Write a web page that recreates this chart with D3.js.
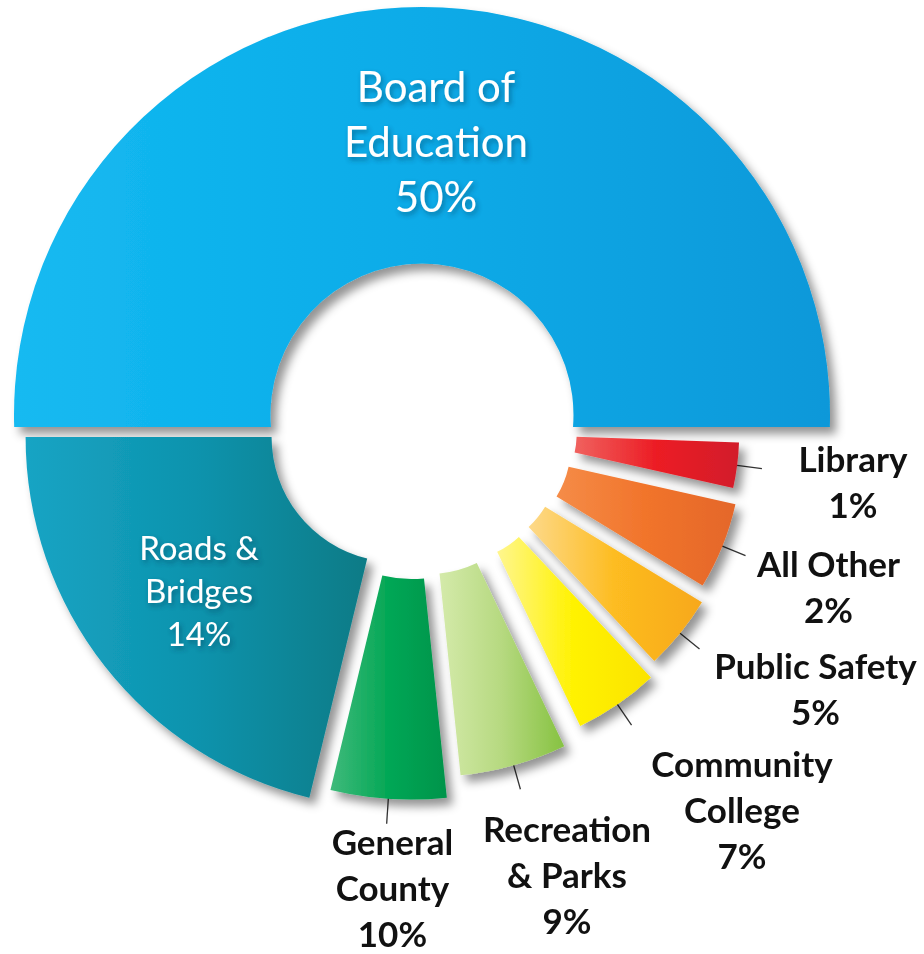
<!DOCTYPE html>
<html>
<head>
<meta charset="utf-8">
<script src="https://cdn.jsdelivr.net/npm/d3@7"></script>
<style>
  html, body { margin: 0; padding: 0; background: #ffffff; }
  svg { display: block; }
</style>
</head>
<body>
<svg id="chart" width="924" height="954"></svg>
<script>
// ---------------- DATA ----------------
const topCategory = "Board of Education";
const topShare = 50;
const topLines = ["Board of", "Education"];

const categories = ["Library", "All Other", "Public Safety", "Community College",
                    "Recreation & Parks", "General County", "Roads & Bridges"];
const shares = [1, 2, 5, 7, 9, 10, 14];
const labelLines = [["Library"], ["All Other"], ["Public Safety"], ["Community", "College"],
                    ["Recreation", "& Parks"], ["General", "County"], ["Roads &", "Bridges"]];

// ---------------- LAYOUT (how the infographic draws each slice) ----------------
// angular extent of each lower slice as drawn (degrees), lower half of the ring
const sweepDeg = [10.65, 18.7, 15.45, 17.7, 19.55, 19.55, 76.4];
const innerR   = [84.5, 99, 97.4, 85.4, 114, 123, 125];
const outerR   = [247, 270, 281, 278.3, 317, 343.5, 371];
const explode  = [72, 57.6, 56.9, 71, 44.9, 41.7, 33.6];
const drift    = [9.8, 9.1, 6.7, 2, 6.7, 8, -1.6];
const labelPolar = [[8.9, 436.2], [23.0, 441.6], [34.85, 479.5], [51.0, 508.4],
                    [72.5, 482.3], [93.57, 474.4], [141.64, 284.4]];
const insideLabel = [false, false, false, false, false, false, true];

const sliceColors = [
  ["#f0625f", "#ec1c24", "#d21f2b"],
  ["#f58c48", "#f1742b", "#e4672a"],
  ["#fdd98a", "#fdbc20", "#f7a81b"],
  ["#fff68f", "#fff200", "#fbe300"],
  ["#d4eaaa", "#b6d980", "#86c241"],
  ["#3fba7b", "#03a755", "#00944b"],
  ["#16a4c4", "#0e93ad", "#0a7b86"]
];
const boardColors = ["#16baf1", "#07abe8", "#0898d9"];

// ---------------- DRAWING ----------------
const W = 924, H = 954;
const cx = 422, cy = 415;
const board = { inner: 151.5, outer: 408, drop: 12, labelPolar: [272.94, 273.4] };
const rad = d => d * Math.PI / 180;
const FONT = "Lato, 'Open Sans', 'DejaVu Sans', sans-serif";

const svg = d3.select("#chart");
const defs = svg.append("defs");

const sh = defs.append("filter").attr("id", "shadow")
  .attr("x", "-10%").attr("y", "-10%").attr("width", "125%").attr("height", "125%");
sh.append("feDropShadow").attr("dx", 6).attr("dy", 7).attr("stdDeviation", 5)
  .attr("flood-color", "#000").attr("flood-opacity", 0.42);

const tsh = defs.append("filter").attr("id", "tshadow")
  .attr("x", "-20%").attr("y", "-30%").attr("width", "140%").attr("height", "160%");
tsh.append("feDropShadow").attr("dx", 2).attr("dy", 3).attr("stdDeviation", 2.5)
  .attr("flood-color", "#00334d").attr("flood-opacity", 0.45);

function addGradient(id, stops) {
  const g = defs.append("linearGradient").attr("id", id)
    .attr("x1", "0%").attr("y1", "0%").attr("x2", "100%").attr("y2", "0%");
  stops.forEach((c, i) => g.append("stop")
    .attr("offset", (i / (stops.length - 1) * 100) + "%").attr("stop-color", c));
}
addGradient("g-board", boardColors);
sliceColors.forEach((s, i) => addGradient("g-" + i, s));

const rows = categories.map((c, i) => ({
  i, name: c, share: shares[i], sweep: sweepDeg[i], r0: innerR[i], r1: outerR[i],
  explode: explode[i], drift: drift[i]
}));

// lower half: from just below 3 o'clock (d3 angle 92deg) clockwise to 9 o'clock (270deg)
const pie = d3.pie().sort(null).value(d => d.sweep)
  .startAngle(rad(92)).endAngle(rad(270));
const arcs = pie(rows);

const arcGen = d3.arc()
  .innerRadius(d => d.data.r0)
  .outerRadius(d => d.data.r1);

// apex (translation) of each slice: explode along bisector + small clockwise drift
function apex(a) {
  const m = (a.startAngle + a.endAngle) / 2;
  const ux = Math.sin(m), uy = -Math.cos(m);     // radial
  const tx = Math.cos(m), ty = Math.sin(m);      // clockwise tangent
  return [cx + a.data.explode * ux + a.data.drift * tx,
          cy + a.data.explode * uy + a.data.drift * ty, ux, uy];
}

// leader lines (drawn first, under the slices)
const leaderLen = 25;
const leaders = svg.append("g");
arcs.forEach(a => {
  if (insideLabel[a.data.i]) return;
  const [ax, ay, ux, uy] = apex(a);
  leaders.append("line")
    .attr("x1", ax + (a.data.r1 - 4) * ux).attr("y1", ay + (a.data.r1 - 4) * uy)
    .attr("x2", ax + (a.data.r1 + leaderLen) * ux).attr("y2", ay + (a.data.r1 + leaderLen) * uy)
    .attr("stroke", "#333").attr("stroke-width", 1.3);
});

const slices = svg.append("g").attr("filter", "url(#shadow)");

// top half: Board of Education (half ring whose flat ends drop slightly below centre)
(function () {
  const r0 = board.inner, r1 = board.outer, dr = board.drop;
  const e1 = Math.asin(dr / r1), e0 = Math.asin(dr / r0);
  const p = d3.path();
  p.moveTo(cx + r1 * Math.cos(Math.PI - e1), cy + r1 * Math.sin(Math.PI - e1));
  p.arc(cx, cy, r1, Math.PI - e1, 2 * Math.PI + e1, false);
  p.lineTo(cx + r0 * Math.cos(e0), cy + r0 * Math.sin(e0));
  p.arc(cx, cy, r0, 2 * Math.PI + e0, Math.PI - e0, true);
  p.closePath();
  slices.append("path").attr("d", p.toString()).attr("fill", "url(#g-board)");
})();

arcs.forEach(a => {
  const [ax, ay] = apex(a);
  slices.append("path")
    .attr("d", arcGen(a))
    .attr("transform", `translate(${ax},${ay})`)
    .attr("fill", `url(#g-${a.data.i})`);
});

// ---------------- LABELS ----------------
function block(x, yc, lines, fs, lh, color, weight, filter) {
  const first = yc - (lines.length - 1) * lh / 2 + 0.36 * fs;
  const t = svg.append("text")
    .attr("text-anchor", "middle")
    .attr("font-family", FONT)
    .attr("font-size", fs)
    .attr("font-weight", weight)
    .attr("fill", color);
  if (filter) t.attr("filter", filter);
  lines.forEach((ln, k) => t.append("tspan").attr("x", x).attr("y", first + k * lh).text(ln));
}
function polar(phiDeg, r) {
  return [cx + r * Math.cos(rad(phiDeg)), cy + r * Math.sin(rad(phiDeg))];
}

{
  const [bx, by] = polar(board.labelPolar[0], board.labelPolar[1]);
  block(bx, by, topLines.concat([topShare + "%"]), 42, 55, "#ffffff", 400, "url(#tshadow)");
}
arcs.forEach(a => {
  const i = a.data.i;
  const [lx, ly] = polar(labelPolar[i][0], labelPolar[i][1]);
  const lines = labelLines[i].concat([a.data.share + "%"]);
  if (insideLabel[i]) block(lx, ly, lines, 33, 43, "#ffffff", 400, "url(#tshadow)");
  else block(lx, ly, lines, 35, 46, "#111111", 700, null);
});
</script>
</body>
</html>
